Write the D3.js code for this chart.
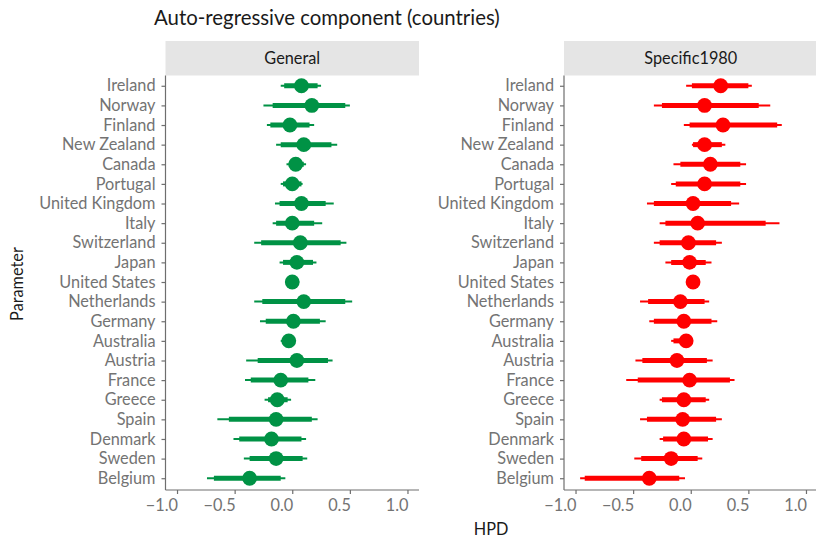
<!DOCTYPE html>
<html>
<head>
<meta charset="utf-8">
<script src="https://cdn.jsdelivr.net/npm/d3@7"></script>
<style>
  html, body { margin: 0; padding: 0; background: #fff; }
  svg { display: block; font-family: Lato, "Open Sans", sans-serif; }
</style>
</head>
<body>
<svg id="chart" width="816" height="543"></svg>
<script>
// Countries, top to bottom
const countries = ["Ireland","Norway","Finland","New Zealand","Canada","Portugal","United Kingdom","Italy","Switzerland","Japan","United States","Netherlands","Germany","Australia","Austria","France","Greece","Spain","Denmark","Sweden","Belgium"];

// General model: median, inner interval, outer interval
const genMed    = [0.08, 0.17, -0.02, 0.10, 0.03, 0.00, 0.08, 0.00, 0.07, 0.04, 0.00, 0.10, 0.01, -0.03, 0.04, -0.10, -0.13, -0.14, -0.18, -0.14, -0.37];
const genInLo   = [-0.07, -0.17, -0.19, -0.10, -0.03, -0.08, -0.11, -0.14, -0.27, -0.08, -0.04, -0.26, -0.23, -0.09, -0.30, -0.36, -0.21, -0.55, -0.46, -0.37, -0.68];
const genInHi   = [0.22, 0.46, 0.15, 0.34, 0.10, 0.08, 0.29, 0.19, 0.42, 0.18, 0.04, 0.46, 0.24, 0.02, 0.31, 0.14, -0.04, 0.17, 0.08, 0.09, -0.10];
const genOutLo  = [-0.10, -0.25, -0.22, -0.14, -0.05, -0.10, -0.15, -0.17, -0.33, -0.11, -0.06, -0.33, -0.28, -0.10, -0.40, -0.41, -0.24, -0.65, -0.51, -0.42, -0.74];
const genOutHi  = [0.25, 0.50, 0.19, 0.39, 0.12, 0.09, 0.36, 0.26, 0.47, 0.21, 0.06, 0.52, 0.29, 0.03, 0.35, 0.20, -0.01, 0.22, 0.12, 0.13, -0.06];

// Specific1980 model
const spcMed    = [0.26, 0.12, 0.28, 0.12, 0.17, 0.12, 0.02, 0.06, -0.02, -0.01, 0.02, -0.09, -0.06, -0.04, -0.12, -0.01, -0.06, -0.07, -0.06, -0.17, -0.36];
const spcInLo   = [0.01, -0.25, -0.01, 0.02, -0.09, -0.13, -0.32, -0.22, -0.27, -0.17, -0.01, -0.37, -0.32, -0.15, -0.42, -0.46, -0.25, -0.38, -0.24, -0.43, -0.92];
const spcInHi   = [0.50, 0.59, 0.75, 0.27, 0.43, 0.43, 0.35, 0.65, 0.22, 0.13, 0.05, 0.12, 0.18, -0.03, 0.14, 0.34, 0.13, 0.22, 0.15, 0.06, -0.10];
const spcOutLo  = [-0.04, -0.32, -0.06, 0.01, -0.15, -0.17, -0.38, -0.27, -0.32, -0.22, -0.03, -0.44, -0.36, -0.17, -0.48, -0.56, -0.27, -0.44, -0.27, -0.49, -0.96];
const spcOutHi  = [0.53, 0.69, 0.79, 0.30, 0.48, 0.48, 0.42, 0.77, 0.27, 0.18, 0.07, 0.16, 0.23, -0.02, 0.19, 0.38, 0.16, 0.27, 0.19, 0.10, -0.05];

const xTicks = [-1.0, -0.5, 0.0, 0.5, 1.0];

const panels = [
  { name: "General",      color: "#009245", med: genMed, inLo: genInLo, inHi: genInHi, outLo: genOutLo, outHi: genOutHi, x0: 165.5, x1: 419 },
  { name: "Specific1980", color: "#ff0000", med: spcMed, inLo: spcInLo, inHi: spcInHi, outLo: spcOutLo, outHi: spcOutHi, x0: 564, x1: 817.5 }
];

const svg = d3.select("#chart");
const plotTop = 75.5, plotBottom = 490;
const stripTop = 41;
const textCol = "#737373";
const axisCol = "#6e6e6e";
const font = "Lato, 'Open Sans', sans-serif";
const labelSize = 16.3;

// Row positions (discrete scale with 0.6-step padding at both ends)
const y = d3.scalePoint().domain(countries).range([74, 490]).padding(0.6);

// Title
svg.append("text")
  .attr("x", 154).attr("y", 25)
  .attr("font-size", 20.4).attr("fill", "#1a1a1a")
  .text("Auto-regressive component (countries)");

panels.forEach(p => {
  const x = d3.scaleLinear().domain([-1.1, 1.1]).range([p.x0, p.x1]);
  const g = svg.append("g");

  // Strip header
  g.append("rect")
    .attr("x", p.x0).attr("y", stripTop)
    .attr("width", p.x1 - p.x0).attr("height", plotTop - stripTop)
    .attr("fill", "#e5e5e5");
  g.append("text")
    .attr("x", (p.x0 + p.x1) / 2).attr("y", (stripTop + plotTop) / 2)
    .attr("dy", "0.36em").attr("text-anchor", "middle")
    .attr("font-size", labelSize).attr("fill", "#1a1a1a")
    .text(p.name);

  const rows = countries.map((c, i) => ({
    c, med: p.med[i], inLo: p.inLo[i], inHi: p.inHi[i], outLo: p.outLo[i], outHi: p.outHi[i]
  }));

  // Outer interval
  g.selectAll("line.outer").data(rows).join("line")
    .attr("class", "outer")
    .attr("x1", d => x(d.outLo)).attr("x2", d => x(d.outHi))
    .attr("y1", d => y(d.c)).attr("y2", d => y(d.c))
    .attr("stroke", p.color).attr("stroke-width", 2);

  // Inner interval
  g.selectAll("line.inner").data(rows).join("line")
    .attr("class", "inner")
    .attr("x1", d => x(d.inLo)).attr("x2", d => x(d.inHi))
    .attr("y1", d => y(d.c)).attr("y2", d => y(d.c))
    .attr("stroke", p.color).attr("stroke-width", 5);

  // Median points
  g.selectAll("circle").data(rows).join("circle")
    .attr("cx", d => x(d.med)).attr("cy", d => y(d.c))
    .attr("r", 7.4).attr("fill", p.color);

  // Y axis
  const yAxis = g.append("g")
    .attr("transform", `translate(${p.x0},0)`)
    .call(d3.axisLeft(y).tickSize(4).tickPadding(6));
  yAxis.select(".domain").attr("stroke", axisCol).attr("stroke-width", 1.2)
    .attr("d", `M0,${plotTop}V${plotBottom}`);
  yAxis.selectAll(".tick line").attr("stroke", axisCol).attr("stroke-width", 1.2);
  yAxis.selectAll(".tick text").attr("fill", textCol).attr("font-size", labelSize)
    .attr("font-family", font);

  // X axis
  const xAxis = g.append("g")
    .attr("transform", `translate(0,${plotBottom})`)
    .call(d3.axisBottom(x).tickValues(xTicks).tickFormat(d3.format(".1f")).tickSize(4).tickPadding(5));
  xAxis.select(".domain").attr("stroke", axisCol).attr("stroke-width", 1.2)
    .attr("d", `M${p.x0},0H${p.x1}`);
  xAxis.selectAll(".tick line").attr("stroke", axisCol).attr("stroke-width", 1.2);
  xAxis.selectAll(".tick text").attr("fill", textCol).attr("font-size", labelSize)
    .attr("font-family", font).attr("text-anchor", "end").attr("dx", "0.5");
});

// Axis titles
svg.append("text")
  .attr("x", 491).attr("y", 535)
  .attr("text-anchor", "middle").attr("font-size", labelSize).attr("fill", "#1a1a1a")
  .text("HPD");
svg.append("text")
  .attr("transform", "translate(23,284) rotate(-90)")
  .attr("text-anchor", "middle").attr("font-size", labelSize).attr("fill", "#1a1a1a")
  .text("Parameter");
</script>
</body>
</html>
